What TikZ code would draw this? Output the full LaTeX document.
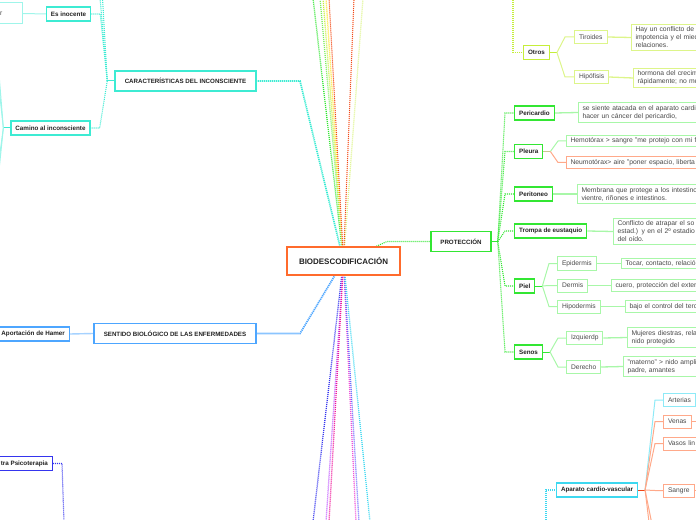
\documentclass[tikz,border=0pt]{standalone}
\usepackage{fontspec}
\setsansfont{Liberation Sans}
\usetikzlibrary{positioning, calc, backgrounds}
\definecolor{corange}{HTML}{FF6B2C}
\definecolor{cturq}{HTML}{3DEBD3}
\definecolor{cturqlt}{HTML}{9FF5EA}
\definecolor{cblue}{HTML}{4DA6FF}
\definecolor{cbluelt}{HTML}{A6D2FF}
\definecolor{cindigo}{HTML}{3535EE}
\definecolor{cgreen}{HTML}{33E633}
\definecolor{cgreenlt}{HTML}{A8F7A8}
\definecolor{cgreenmid}{HTML}{80EE60}
\definecolor{clime}{HTML}{C5EE3A}
\definecolor{climelt}{HTML}{DDF58A}
\definecolor{cyellow}{HTML}{FFE21F}
\definecolor{csalmon}{HTML}{FFA98A}
\definecolor{cred}{HTML}{F04515}
\definecolor{ckhaki}{HTML}{C8C88E}
\definecolor{ccyan}{HTML}{3DD8F0}
\definecolor{ccyanlt}{HTML}{8EEAF7}
\definecolor{cviolet}{HTML}{C055FF}
\definecolor{cpink}{HTML}{F0189A}
\definecolor{cmagenta}{HTML}{F050D8}
\definecolor{cperi}{HTML}{6B6BFF}
\definecolor{ctext}{HTML}{222222}
\definecolor{cgreytext}{HTML}{4A4A4A}
\tikzset{
  every picture/.style={font=\sffamily},
  root/.style={draw=corange, fill=white, line width=1.6bp, minimum width=113bp, minimum height=28bp, font=\sffamily\bfseries\fontsize{8}{9}\selectfont, text=ctext},
  topic/.style={draw=#1, fill=white, line width=1.5bp, minimum height=20bp, inner xsep=8bp, font=\sffamily\bfseries\fontsize{6.2}{7.2}\selectfont, text=ctext},
  sub/.style={draw=#1, fill=white, line width=1.2bp, minimum height=14bp, inner xsep=4.5bp, inner ysep=1bp, font=\sffamily\bfseries\fontsize{6.3}{7.3}\selectfont, text=ctext},
  part/.style={draw=#1, fill=white, line width=1bp, minimum height=13bp, inner xsep=4.5bp, inner ysep=1bp, font=\sffamily\fontsize{6.7}{7.7}\selectfont, text=cgreytext},
  leaf/.style={draw=#1, fill=white, line width=1bp, anchor=west, text width=170bp, align=left, inner xsep=4bp, inner ysep=2.5bp, font=\sffamily\fontsize{6.8}{8}\selectfont, text=cgreytext},
  leaf/.default=cgreenlt,
  trunk/.style={draw=#1, line width=1.7bp, dash pattern=on 1.2bp off 0.8bp},
  link/.style={draw=#1, line width=1.1bp, dash pattern=on 1bp off 1bp},
  twig/.style={draw=#1, line width=1bp},
}

\begin{document}
\begin{tikzpicture}[x=1bp, y=-1bp]
  \useasboundingbox (0,0) rectangle (696,520);
  % centre and main topics
  \node[root] (bio) at (343.5,261) {BIODESCODIFICACIÓN};
  \node[topic=cturq, minimum width=141bp] (carac) at (185.5,81) {CARACTERÍSTICAS DEL INCONSCIENTE};
  \node[topic=cblue, minimum width=162bp] (sent) at (175,333.5) {SENTIDO BIOLÓGICO DE LAS ENFERMEDADES};
  \node[topic=cgreen, minimum width=60bp] (prot) at (461,241.5) {PROTECCIÓN};
  % left side
  \node[sub=cturq] (inoc) at (68.5,14) {Es inocente};
  \node[sub=cturq] (camino) at (50.5,128) {Camino al inconsciente};
  \node[part=cturqlt, anchor=east, text width=18bp, align=left, minimum height=21bp] (prev) at (23,13.5) {r};
  \node[sub=cblue, anchor=east] (hamer) at (70,334) {Aportación de Hamer};
  \node[sub=cindigo, anchor=east] (psico) at (53,463.5) {tra Psicoterapia};
  % protección
  \node[sub=cgreen, anchor=west] (peri) at (514,113) {Pericardio};
  \node[sub=cgreen, anchor=west] (pleura) at (514,151.5) {Pleura};
  \node[sub=cgreen, anchor=west] (perit) at (514,194) {Peritoneo};
  \node[sub=cgreen, anchor=west] (trompa) at (514,231) {Trompa de eustaquio};
  \node[sub=cgreen, anchor=west] (piel) at (514,286) {Piel};
  \node[sub=cgreen, anchor=west] (senos) at (514,352) {Senos};
  \node[part=cgreenlt, anchor=west] (epid) at (557,263.5) {Epidermis};
  \node[part=cgreenlt, anchor=west] (derm) at (557,285.5) {Dermis};
  \node[part=cgreenlt, anchor=west] (hipod) at (557,306.5) {Hipodermis};
  \node[part=cgreenlt, anchor=west] (izq) at (566,338) {Izquierdp};
  \node[part=cgreenlt, anchor=west] (dcho) at (566,367) {Derecho};
  \node[leaf] (periL) at (578,112.5) {se siente atacada en el aparato cardi\\hacer un cáncer del pericardio,};
  \node[leaf] (hemL) at (566,141) {Hemotórax > sangre "me protejo con mi f};
  \node[leaf=csalmon] (neuL) at (566,162.5) {Neumotórax> aire "poner espacio, liberta};
  \node[leaf] (peritL) at (577,194) {Membrana que protege a los intestino\\vientre, riñones e intestinos.};
  \node[leaf] (trompaL) at (613,231.5) {Conflicto de atrapar el so\\estad.) y en el 2º estadio p\\del oído.};
  \node[leaf] (epidL) at (621,263.5) {Tocar, contacto, relació};
  \node[leaf] (dermL) at (611,285.5) {cuero, protección del exter};
  \node[leaf] (hipodL) at (625,306.5) {bajo el control del terc};
  \node[leaf] (izqL) at (627,337.5) {Mujeres diestras, rela\\nido protegido};
  \node[leaf] (dchoL) at (623,366.5) {"materno" > nido ampli\\padre, amantes};
  % otros
  \node[sub=clime, anchor=west] (otros) at (523,52.5) {Otros};
  \node[part=climelt, anchor=west] (tiro) at (574,37) {Tiroides};
  \node[part=climelt, anchor=west] (hipof) at (574,77) {Hipófisis};
  \node[leaf=climelt] (tiroL) at (631,37.5) {Hay un conflicto de\\impotencia y el mied\\relaciones.};
  \node[leaf=climelt] (hipofL) at (633,78) {hormona del crecim\\rápidamente; no me};
  % aparato cardio-vascular
  \node[sub=ccyan, anchor=west] (cardio) at (556,490) {Aparato cardio-vascular};
  \node[part=ccyanlt, anchor=west] (art) at (663,400) {Arterias};
  \node[part=csalmon, anchor=west] (venas) at (663,421.5) {Venas};
  \node[part=csalmon, anchor=west, text width=40bp, align=left] (vasos) at (663,443.5) {Vasos lin};
  \node[part=csalmon, anchor=west] (sangre) at (663,490.5) {Sangre};

  \begin{scope}[on background layer]
    \clip (0,0) rectangle (696,520);
    % from the centre
    \draw[trunk=cturq] (bio.center) -- (300,81) -- (carac.east);
    \draw[trunk=cblue] (bio.center) -- (300,333.5) -- (sent.east);
    \draw[link=cgreen] (bio.center) -- (387,241.5) -- (prot.west);
    \foreach \xx/\cc in {313/cgreen, 320/cgreenmid, 323/clime, 326/cyellow, 329/csalmon, 354/csalmon, 363/climelt} {
      \coordinate (up\xx) at (\xx,-2);
      \draw[link=\cc, line width=1.3bp] (bio.center) -- (up\xx);
    }
    \foreach \xx in {329, 354} \draw[link=cred, line width=0.7bp] (bio.center) -- (up\xx);
    \foreach \xx/\cc in {313/cindigo, 326/cviolet, 329/cpink, 356/cmagenta, 359/cperi, 370/ccyan} {
      \coordinate (dn\xx) at (\xx,522);
      \draw[link=\cc, line width=1.3bp] (bio.center) -- (dn\xx);
    }
    % características
    \draw[twig=cturq] (carac.west) -- ++(-7,0) coordinate (cj);
    \draw[link=cturq] (cj) -- ($(inoc.east)+(9,0)$) -- (inoc.east);
    \draw[link=cturq] (cj) -- ($(camino.east)+(9,0)$) -- (camino.east);
    \coordinate (cu1) at (100,-2);
    \coordinate (cu2) at (102.5,-2);
    \draw[link=cturq] (cj) -- (cu1);
    \draw[link=cturq] (cj) -- (cu2);
    \draw[twig=cturqlt] (inoc.west) -- (prev.east);
    \draw[twig=cturq] (camino.west) -- ++(-7,0) coordinate (kj);
    \foreach \yy in {62, 78, 168, 180} {
      \coordinate (kl\yy) at (-2,\yy);
      \draw[twig=cturqlt] (kj) -- (kl\yy);
    }
    % sentido biológico
    \draw[twig=cbluelt, line width=1.4bp] (sent.west) -- (hamer.east);
    \coordinate (pd) at (64,522);
    \draw[link=cindigo] (psico.east) -- ++(9,0) -- (pd);
    % protección
    \draw[twig=cgreen] (prot.east) -- ++(6,0) coordinate (pj);
    \foreach \n in {peri, pleura, perit, trompa, piel, senos}
      \draw[link=cgreen] (pj) -- ($(\n.west)+(-9,0)$) -- (\n.west);
    \draw[twig=ckhaki, line width=1.4bp] (pleura.east) -- ++(7,0) coordinate (lj);
    \draw[twig=cgreenlt] (lj) -- ($(hemL.west)+(-8,0)$) -- (hemL.west);
    \draw[twig=csalmon] (lj) -- ($(neuL.west)+(-8,0)$) -- (neuL.west);
    \draw[twig=cgreen] (piel.east) -- ++(7,0) coordinate (ej);
    \foreach \n in {epid, derm, hipod}
      \draw[twig=cgreenlt] (ej) -- ($(\n.west)+(-8,0)$) -- (\n.west);
    \draw[twig=cgreen] (senos.east) -- ++(7,0) coordinate (sj);
    \foreach \n in {izq, dcho}
      \draw[twig=cgreenlt] (sj) -- ($(\n.west)+(-8,0)$) -- (\n.west);
    \foreach \a/\b in {peri/periL, perit/peritL, trompa/trompaL, epid/epidL, derm/dermL, hipod/hipodL, izq/izqL, dcho/dchoL}
      \draw[twig=cgreenlt, line width=1.3bp] (\a.east) -- (\b.west);
    % otros
    \coordinate (ou) at (513,-2);
    \draw[link=clime] (ou) -- (ou |- otros.west) -- (otros.west);
    \draw[twig=clime] (otros.east) -- ++(7,0) coordinate (oj);
    \foreach \n in {tiro, hipof}
      \draw[twig=climelt] (oj) -- ($(\n.west)+(-9,0)$) -- (\n.west);
    \draw[twig=climelt, line width=1.3bp] (tiro.east) -- (tiroL.west);
    \draw[twig=climelt, line width=1.3bp] (hipof.east) -- (hipofL.west);
    % aparato cardio-vascular
    \coordinate (cd) at (546,522);
    \draw[link=ccyan] (cd) -- (cd |- cardio.west) -- (cardio.west);
    \draw[twig=cred] (cardio.east) -- ++(7,0) coordinate (aj);
    \draw[twig=ccyanlt] (aj) -- ($(art.west)+(-8,0)$) -- (art.west);
    \foreach \n in {venas, vasos, sangre}
      \draw[twig=csalmon] (aj) -- ($(\n.west)+(-8,0)$) -- (\n.west);
    \coordinate (ad1) at (649,522);
    \coordinate (ad2) at (651.5,522);
    \draw[twig=csalmon] (aj) -- (ad1);
    \draw[twig=csalmon] (aj) -- (ad2);
    \coordinate (vr) at (698,421.5);
    \coordinate (sr) at (698,490.5);
    \draw[twig=csalmon] (venas.east) -- (vr);
    \draw[twig=csalmon] (sangre.east) -- (sr);
  \end{scope}
\end{tikzpicture}
\end{document}
